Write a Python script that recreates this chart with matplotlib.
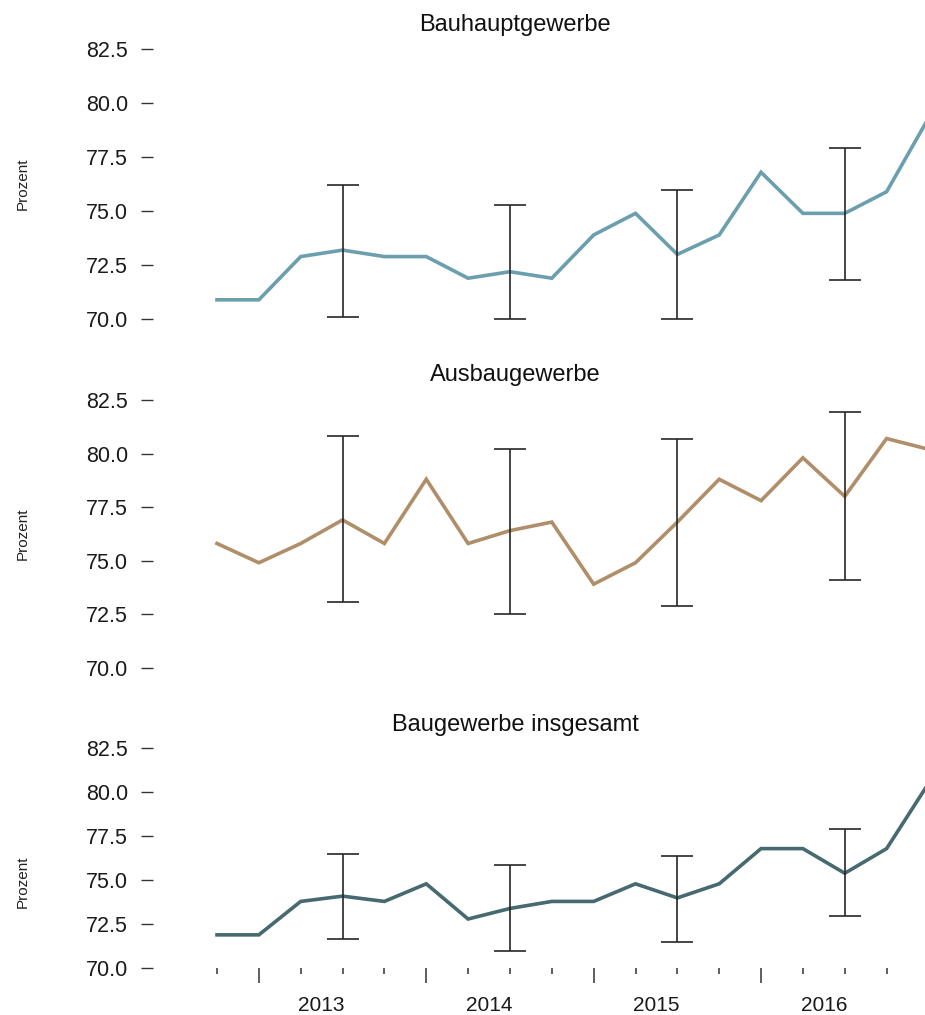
import numpy as np
import matplotlib
matplotlib.use('Agg')
import matplotlib.pyplot as plt
from matplotlib.ticker import FixedLocator

plt.rcParams['font.family'] = ['Liberation Sans', 'DejaVu Sans']

# Quarterly series, 2012 Q4 to 2017 Q1
quarters = ['2012-Q4',
            '2013-Q1', '2013-Q2', '2013-Q3', '2013-Q4',
            '2014-Q1', '2014-Q2', '2014-Q3', '2014-Q4',
            '2015-Q1', '2015-Q2', '2015-Q3', '2015-Q4',
            '2016-Q1', '2016-Q2', '2016-Q3', '2016-Q4',
            '2017-Q1']

bauhaupt = [70.9, 70.9, 72.9, 73.2, 72.9, 72.9, 71.9, 72.2, 71.9,
            73.9, 74.9, 73.0, 73.9, 76.8, 74.9, 74.9, 75.9, 79.3]
ausbau = [75.8, 74.9, 75.8, 76.9, 75.8, 78.8, 75.8, 76.4, 76.8,
          73.9, 74.9, 76.8, 78.8, 77.8, 79.8, 78.0, 80.7, 80.2]
gesamt = [71.9, 71.9, 73.8, 74.1, 73.8, 74.8, 72.8, 73.4, 73.8,
          73.8, 74.8, 74.0, 74.8, 76.8, 76.8, 75.4, 76.8, 80.5]

# confidence intervals, reported for the third quarter of each year
ci_quarters = ['2013-Q3', '2014-Q3', '2015-Q3', '2016-Q3']
bauhaupt_lo = [70.1, 70.0, 70.0, 71.8]
bauhaupt_hi = [76.2, 75.3, 76.0, 77.9]
ausbau_lo = [73.05, 72.5, 72.9, 74.1]
ausbau_hi = [80.8, 80.2, 80.7, 81.95]
gesamt_lo = [71.65, 71.0, 71.5, 72.95]
gesamt_hi = [76.5, 75.85, 76.4, 77.9]

panels = [
    ('Bauhauptgewerbe', bauhaupt, bauhaupt_lo, bauhaupt_hi, '#6b9fad'),
    ('Ausbaugewerbe', ausbau, ausbau_lo, ausbau_hi, '#b08e6a'),
    ('Baugewerbe insgesamt', gesamt, gesamt_lo, gesamt_hi, '#476970'),
]

W, H = 925, 1015
fig = plt.figure(figsize=(W / 100, H / 100), dpi=100)

# axes boxes in pixels: (top, bottom) ; all share left=153, right=figure edge
boxes = [(38.2, 330.1), (389.3, 678.4), (739.5, 968.3)]
ylims = [(69.5, 83.0), (69.5, 83.0), (70.0, 83.0)]
title_base = [31.5, 381.5, 730.5]
ylab_y = [184, 534, 882]

x = np.arange(len(quarters))
ci_x = [quarters.index(q) for q in ci_quarters]
x0_px, dx_px = 217, 41.85
xlim = ((153 - x0_px) / dx_px, (W - x0_px) / dx_px)

for k, (title, vals, lo, hi, color) in enumerate(panels):
    top, bot = boxes[k]
    ax = fig.add_axes([153 / W, 1 - bot / H, (W - 153) / W, (bot - top) / H])
    ax.plot(x, vals, color=color, lw=2.6, solid_joinstyle='miter', zorder=2)
    mid = [vals[i] for i in ci_x]
    yerr = [np.array(mid) - np.array(lo), np.array(hi) - np.array(mid)]
    ax.errorbar(ci_x, mid, yerr=yerr, fmt='none', ecolor='#262626',
                elinewidth=1.2, capsize=11.5, capthick=1.2, zorder=3)

    ax.set_xlim(*xlim)
    ax.set_ylim(*ylims[k])
    for s in ax.spines.values():
        s.set_visible(False)
    ax.set_yticks([70.0, 72.5, 75.0, 77.5, 80.0, 82.5])
    ax.set_yticklabels(['70.0', '72.5', '75.0', '77.5', '80.0', '82.5'])
    ax.tick_params(axis='y', direction='out', length=9, width=1.0,
                   color='#333333', pad=9, labelsize=15.5, labelcolor='#1a1a1a')

    fig.text(515 / W, 1 - title_base[k] / H, title, ha='center', va='baseline',
             fontsize=17, color='#111111')
    fig.text(23 / W, 1 - ylab_y[k] / H, 'Prozent', rotation=90,
             ha='center', va='center', fontsize=11, color='#222222')

    if k < 2:
        ax.set_xticks([])
        continue

    # long ticks at the start of each year, short ticks for every quarter
    year_starts = [i for i, q in enumerate(quarters) if q.endswith('Q1')]
    ax.xaxis.set_major_locator(FixedLocator(year_starts))
    ax.xaxis.set_minor_locator(FixedLocator(list(x)))
    ax.set_xticklabels([])
    ax.tick_params(axis='x', which='major', direction='out', length=11,
                   width=1.1, color='#333333')
    ax.tick_params(axis='x', which='minor', direction='out', length=4,
                   width=1.1, color='#333333')

    years = sorted(set(q[:4] for q in quarters))
    for yr in years:
        idx = [i for i, q in enumerate(quarters) if q.startswith(yr)]
        if len(idx) < 4:
            continue
        ax.annotate(yr, xy=(np.mean(idx), 0), xycoords=('data', 'axes fraction'),
                    xytext=(0, -26.5), textcoords='offset points',
                    ha='center', va='center', fontsize=15, color='#1a1a1a')

fig.savefig('out.png', dpi=100, facecolor='white')
